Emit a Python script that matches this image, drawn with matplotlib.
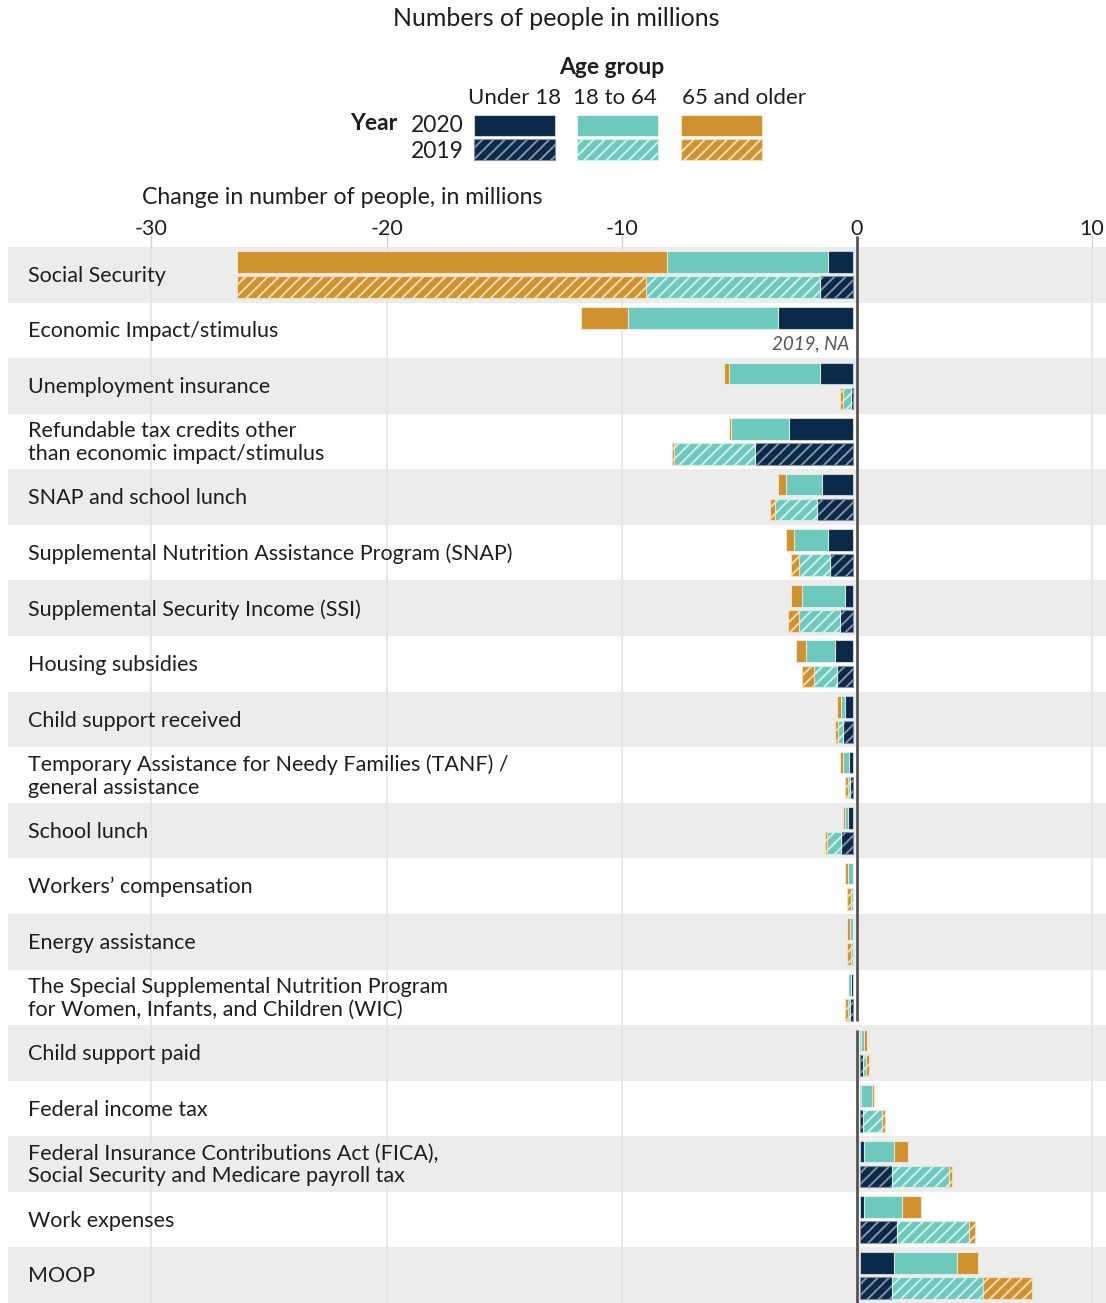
import numpy as np
import matplotlib
matplotlib.use("Agg")
import matplotlib.pyplot as plt
from matplotlib.patches import Rectangle

plt.rcParams['font.family'] = ['Lato', 'DejaVu Sans']
plt.rcParams['hatch.linewidth'] = 1.4

categories = [
    "Social Security",
    "Economic Impact/stimulus",
    "Unemployment insurance",
    "Refundable tax credits other\nthan economic impact/stimulus",
    "SNAP and school lunch",
    "Supplemental Nutrition Assistance Program (SNAP)",
    "Supplemental Security Income (SSI)",
    "Housing subsidies",
    "Child support received",
    "Temporary Assistance for Needy Families (TANF) /\ngeneral assistance",
    "School lunch",
    "Workers\u2019 compensation",
    "Energy assistance",
    "The Special Supplemental Nutrition Program\nfor Women, Infants, and Children (WIC)",
    "Child support paid",
    "Federal income tax",
    "Federal Insurance Contributions Act (FICA),\nSocial Security and Medicare payroll tax",
    "Work expenses",
    "MOOP",
]

age_groups = ["Under 18", "18 to 64", "65 and older"]
years = ["2020", "2019"]

under18_2020 = [-1.08, -3.18, -1.42, -2.75, -1.32, -1.09, -0.33, -0.77, -0.33, -0.19,
                -0.23, -0.02, -0.02, -0.10, 0.02, 0.02, 0.16, 0.14, 1.45]
age18_64_2020 = [-6.85, -6.40, -3.87, -2.44, -1.56, -1.43, -1.86, -1.22, -0.21, -0.26,
                 -0.11, -0.20, -0.10, -0.11, 0.13, 0.47, 1.29, 1.65, 2.67]
age65_2020 = [-18.30, -1.98, -0.21, -0.10, -0.33, -0.34, -0.47, -0.44, -0.13, -0.13,
              -0.11, -0.14, -0.13, -0.02, 0.13, 0.11, 0.58, 0.78, 0.88]

under18_2019 = [-1.40, np.nan, -0.09, -4.19, -1.55, -0.98, -0.55, -0.67, -0.44, -0.14,
                -0.54, -0.02, -0.02, -0.12, 0.10, 0.13, 1.36, 1.56, 1.36]
age18_64_2019 = [-7.40, np.nan, -0.33, -3.42, -1.76, -1.32, -1.74, -0.98, -0.21, -0.07,
                 -0.57, -0.09, -0.07, -0.10, 0.14, 0.78, 2.41, 3.08, 3.84]
age65_2019 = [-17.40, np.nan, -0.16, -0.11, -0.24, -0.34, -0.47, -0.55, -0.11, -0.14,
              -0.11, -0.14, -0.17, -0.14, 0.13, 0.13, 0.13, 0.24, 2.11]

xticks = [-30, -20, -10, 0, 10]

# styles
colors = ["#0b2949", "#6cc9bb", "#d0922e"]
stripe_colors = ["#8591a6", "#d2f0eb", "#f1ddb8"]
band_color = "#ebeceb"
grid_color = "#e3e3e3"
text_color = "#1e1e1e"
GAP = 0.15
BAR_H = 0.39
OFF = 0.225

W, H = 1106, 1303
fig = plt.figure(figsize=(W / 100, H / 100), dpi=100)

def fx(px):
    return px / W

def fy(py):
    return 1 - py / H

ax = fig.add_axes([fx(8), 0, fx(1106) - fx(8), 1056 / H])
ax.set_xlim(-36.1, 10.6)
n = len(categories)
ax.set_ylim(n - 0.5, -0.5)

# bands
for i in range(n):
    if i % 2 == 0:
        ax.axhspan(i - 0.5, i + 0.5, color=band_color, zorder=0, lw=0)

# gridlines
for t in xticks:
    if t != 0:
        ax.axvline(t, color=grid_color, lw=1.2, zorder=0.5)

series = {
    "2020": [under18_2020, age18_64_2020, age65_2020],
    "2019": [under18_2019, age18_64_2019, age65_2019],
}

y = np.arange(n)
for yr, off in zip(years, [-OFF, OFF]):
    vals = [np.array(v, dtype=float) for v in series[yr]]
    neg_start = np.full(n, -GAP)
    pos_start = np.full(n, GAP)
    for k, v in enumerate(vals):
        valid = ~np.isnan(v)
        left = np.where(v < 0, neg_start, pos_start)
        if yr == "2020":
            ax.barh(y[valid] + off, v[valid], left=left[valid], height=BAR_H,
                    color=colors[k], edgecolor=(1, 1, 1, 0.55), linewidth=0.8, zorder=3)
        else:
            ax.barh(y[valid] + off, v[valid], left=left[valid], height=BAR_H,
                    color=colors[k], edgecolor=stripe_colors[k], hatch="///",
                    linewidth=0.8, zorder=3)
        vv = np.where(valid, v, 0)
        neg_start = np.where(vv < 0, neg_start + vv, neg_start)
        pos_start = np.where(vv > 0, pos_start + vv, pos_start)

# NA note
ax.text(-0.3, 1 + OFF + 0.02, "2019, NA", ha="right", va="center", fontsize=13.5,
        style="italic", color="#555555", zorder=4)

# zero line (split between resources and expenses)
n_neg = 14
ax.vlines(0, -0.5 - 0.2, n_neg - 0.5 - 0.08, color="#555555", lw=2, zorder=4, clip_on=False)
ax.vlines(0, n_neg - 0.5 + 0.08, n - 0.5, color="#555555", lw=2, zorder=4)

# category labels
for i, c in enumerate(categories):
    ax.text(-35.25, i + 0.02, c, ha="left", va="center", fontsize=15.5, color=text_color,
            linespacing=1.15, zorder=4)

# ticks on top
ax.xaxis.tick_top()
ax.set_xticks(xticks)
ax.set_xticklabels([str(t) for t in xticks], fontsize=15.5, color=text_color)
ax.tick_params(axis="x", length=9, width=1, color="#cfcfcf", pad=-3)
ax.tick_params(axis="y", left=False, labelleft=False)
for s in ax.spines.values():
    s.set_visible(False)

# axis title
fig.text(fx(342), fy(198), "Change in number of people, in millions", ha="center",
         va="center", fontsize=16.7, color=text_color)

# chart title
fig.text(fx(556), fy(18), "Numbers of people in millions", ha="center", va="center",
         fontsize=18, color=text_color)

# legend
fig.text(fx(612), fy(68), "Age group", ha="center", va="center", fontsize=16.5,
         fontweight="bold", color=text_color)
leg_x = [(474, 555), (577, 658), (681, 762)]
leg_lbl_x = [515, 615, 744]
for (x0, x1), lx, lab in zip(leg_x, leg_lbl_x, age_groups):
    fig.text(fx(lx), fy(98), lab, ha="center", va="center", fontsize=16, color=text_color)
fig.text(fx(397), fy(124), "Year", ha="right", va="center", fontsize=16.5,
         fontweight="bold", color=text_color)
fig.text(fx(411), fy(125), "2020", ha="left", va="center", fontsize=16.5, color=text_color)
fig.text(fx(411), fy(152), "2019", ha="left", va="center", fontsize=16.5, color=text_color)
for k, (x0, x1) in enumerate(leg_x):
    fig.patches.append(Rectangle((fx(x0), fy(136)), fx(x1) - fx(x0), fy(115) - fy(136),
                                 transform=fig.transFigure, facecolor=colors[k],
                                 edgecolor=(1, 1, 1, 0.55), lw=0.8))
    fig.patches.append(Rectangle((fx(x0), fy(160)), fx(x1) - fx(x0), fy(139) - fy(160),
                                 transform=fig.transFigure, facecolor=colors[k],
                                 edgecolor=stripe_colors[k], hatch="///", lw=0.8))

fig.savefig("out.png", dpi=100)
